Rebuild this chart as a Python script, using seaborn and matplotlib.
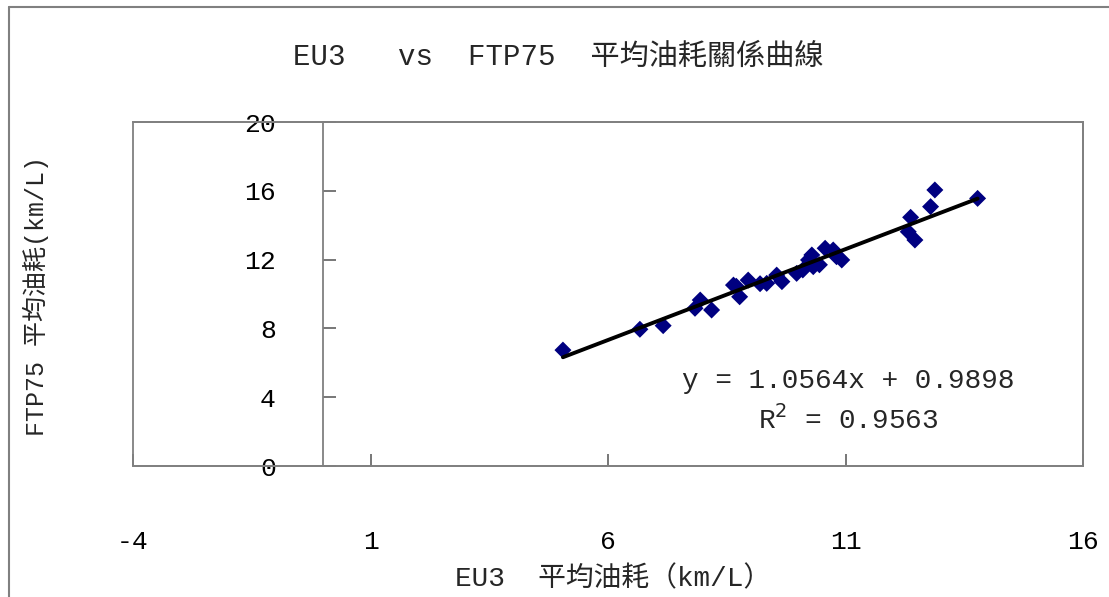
import numpy as np
import matplotlib
matplotlib.use('Agg')
import matplotlib.pyplot as plt
from matplotlib.patches import Rectangle
from matplotlib.lines import Line2D
import seaborn as sns

# EU3 vs FTP75 average fuel economy (km/L)
eu3 = [5.05, 6.67, 7.16, 7.83, 7.94, 8.18, 8.64, 8.70, 8.77, 8.95, 9.20, 9.34,
       9.55, 9.66, 9.97, 10.10, 10.22, 10.29, 10.32, 10.45, 10.57, 10.74, 10.81,
       10.92, 12.32, 12.37, 12.46, 12.79, 12.88, 13.78]
ftp75 = [6.74, 7.95, 8.16, 9.17, 9.65, 9.07, 10.52, 10.45, 9.84, 10.81, 10.60, 10.62,
         11.10, 10.72, 11.20, 11.40, 11.98, 12.27, 11.59, 11.70, 12.66, 12.56, 12.17,
         11.98, 13.62, 14.46, 13.14, 15.08, 16.05, 15.56]

# trendline as printed on the chart
slope = 1.0564
intercept = 0.9898
r2 = 0.9563

x_ticks = [-4, 1, 6, 11, 16]
y_ticks = [0, 4, 8, 12, 16, 20]

title = 'EU3   vs  FTP75  平均油耗關係曲線'
x_label = 'EU3  平均油耗（km/L）'
y_label = 'FTP75 平均油耗(km/L)'

sns.set_theme(style='white')
plt.rcParams['font.family'] = ['Liberation Mono', 'Noto Sans CJK TC']

fig, ax = plt.subplots(figsize=(11.09, 5.97), dpi=100)
fig.subplots_adjust(left=0.12, right=0.9766, top=0.7956, bottom=0.2194)

sns.scatterplot(x=eu3, y=ftp75, marker='D', s=75, color='#000080',
                edgecolor='none', ax=ax, zorder=3)

xs = np.array([min(eu3), max(eu3)])
ax.plot(xs, slope * xs + intercept, color='black', lw=2.8, zorder=4)

ax.set_xlim(-4, 16)
ax.set_ylim(0, 20)
ax.set_xticks(x_ticks)
ax.set_yticks(y_ticks)
ax.set_xticklabels([str(t) for t in x_ticks])

# value axis crosses at x = 0 like Excel
ax.spines['left'].set_position(('data', 0))
for sp in ax.spines.values():
    sp.set_color('#808080')
    sp.set_linewidth(1.3)
ax.add_patch(Rectangle((0, 0), 1, 1, transform=ax.transAxes, fill=False,
                       ec='#808080', lw=1.3, clip_on=False))

ax.tick_params(axis='y', left=True, direction='in', length=9, width=1.2,
               color='#606060', pad=34, labelsize=19, labelcolor='black')
ax.tick_params(axis='x', bottom=True, direction='in', length=9, width=1.2,
               color='#606060', pad=46, labelsize=19, labelcolor='black')

ax.text(11.05, 4.95, f'y = {slope}x + {intercept}', ha='center', va='center',
        fontsize=20)
ax.text(11.05, 2.7, f'R$^2$ = {r2}', ha='center', va='center', fontsize=20)

fig.text(0.503, 0.905, title, ha='center', va='center', fontsize=21)
fig.text(0.553, 0.03, x_label, ha='center', va='center', fontsize=20)
fig.text(0.032, 0.505, y_label, ha='center', va='center', rotation=90,
         fontsize=18)

# chart area border (left and top edges visible)
fig.add_artist(Line2D([0.008, 0.008], [0, 0.988], transform=fig.transFigure,
                      color='#808080', lw=1.5))
fig.add_artist(Line2D([0.008, 1], [0.988, 0.988], transform=fig.transFigure,
                      color='#808080', lw=1.5))

fig.savefig('out.png', dpi=100)
